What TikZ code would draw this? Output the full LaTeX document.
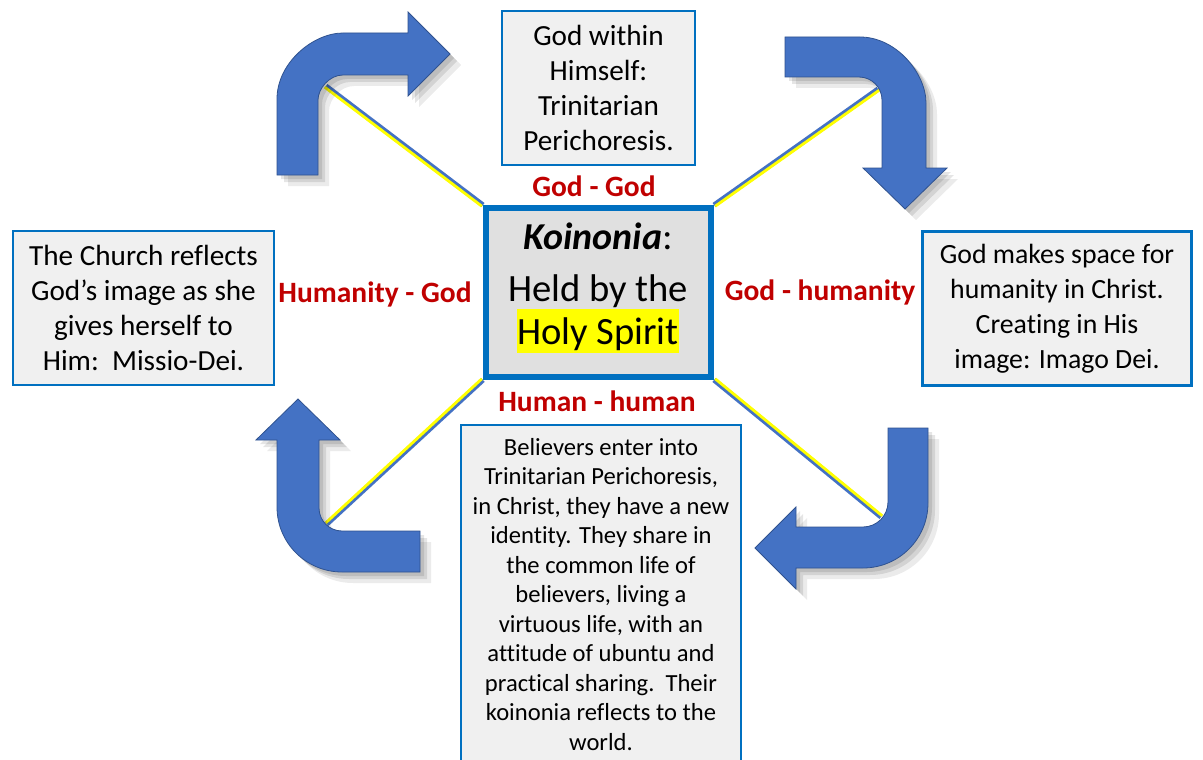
\documentclass[tikz,border=0pt]{standalone}
\usepackage{fontspec}
\setmainfont{Carlito}[Ligatures={NoCommon}]
\definecolor{arrowblue}{HTML}{4472C4}
\definecolor{arrowedge}{HTML}{2F528F}
\definecolor{boxblue}{HTML}{0070C0}
\definecolor{labelred}{HTML}{C00000}
\definecolor{hiyellow}{HTML}{FFFF00}
\begin{document}
\begin{tikzpicture}[x=1pt,y=-1pt,
  textbox/.style={draw=boxblue, line width=2.5, fill=black!6, inner sep=0, align=center,
    font=\fontsize{29.2}{35}\selectfont},
  hubbox/.style={draw=boxblue, line width=6, fill=black!12, inner sep=0},
  relabel/.style={text=labelred, font=\fontsize{29.5}{34}\selectfont\bfseries, inner sep=0},
  bentarrow/.style={fill=arrowblue, draw=arrowedge, line width=0.8,
    preaction={fill=black, opacity=0.08, draw=none, transform canvas={shift={(11,11)}}},
    preaction={fill=black, opacity=0.10, draw=none, transform canvas={shift={(7,7)}}},
    preaction={fill=black, opacity=0.10, draw=none, transform canvas={shift={(4,4)}}}},
  linkblue/.style={draw=arrowblue, line width=5},
  linkyellow/.style={draw=hiyellow, line width=2.8}
]
\clip (0,0) rectangle (1203,760);
\fill[white] (0,0) rectangle (1203,760);

% boxes
\node[hubbox, minimum width=225, minimum height=169] (hub) at (598.5,292.5) {};
\node[font=\fontsize{38}{42}\selectfont, inner sep=0] (hubtitle) at (598,236) {\textbf{\textit{Koinonia}}:};
\node[font=\fontsize{38.6}{42.5}\selectfont, inner sep=0, align=center] (hubtext) at (598,314)
  {Held by the\\{\setlength{\fboxsep}{0pt}\colorbox{hiyellow}{\rule[-9pt]{0pt}{44pt}Holy Spirit}}};

\node[textbox, minimum width=193, minimum height=154] (top) at (598.5,88)
  {God within\\Himself:\\Trinitarian\\Perichoresis.};
\node[textbox, minimum width=261, minimum height=154] (left) at (143.5,308)
  {The Church reflects\\God’s image as she\\gives herself to\\Him:\ \ Missio-Dei.};
\node[textbox, minimum width=269, minimum height=154, font=\fontsize{27.8}{35}\selectfont] (right) at (1057,308.5)
  {God makes space for\\humanity in Christ.\\Creating in His\\image: Imago Dei.};
\node[textbox, minimum width=280, minimum height=339, font=\fontsize{24.6}{29.5}\selectfont] (bottom) at (601,594.5)
  {Believers enter into\\Trinitarian Perichoresis,\\in Christ, they have a new\\identity. They share in\\the common life of\\believers, living a\\virtuous life, with an\\attitude of ubuntu and\\practical sharing.\ \ Their\\koinonia reflects to the\\world.};

% relation labels
\node[relabel] (lgg) at (594,186) {God - God};
\node[relabel] (lhg) at (375,294) {Humanity - God};
\node[relabel] (lgh) at (820,292) {God - humanity};
\node[relabel] (lhh) at (597,401) {Human - human};

% bend points of the arrows
\coordinate (tlbend) at (326,86);
\coordinate (trbend) at (878,89);
\coordinate (brbend) at (881,517);
\coordinate (blbend) at (327,524);

% connectors
\draw[linkblue] (hub.north west) -- (tlbend);
\draw[linkyellow, transform canvas={shift={(-1.2,1.2)}}] (hub.north west) -- (tlbend);
\draw[linkblue] (hub.north east) -- (trbend);
\draw[linkyellow, transform canvas={shift={(1.2,1.2)}}] (hub.north east) -- (trbend);
\draw[linkblue] (hub.south east) -- (brbend);
\draw[linkyellow, transform canvas={shift={(1.2,-1.2)}}] (hub.south east) -- (brbend);
\draw[linkblue] (hub.south west) -- (blbend);
\draw[linkyellow, transform canvas={shift={(-1.2,-1.2)}}] (hub.south west) -- (blbend);

% bent arrows
\path[bentarrow] (277,175) -- (277,99) .. controls (277,62.6) and (313.4,33) .. (343,33)
  -- (408,33) -- (408,12) -- (450,54) -- (408,96) -- (408,75) -- (343,75)
  .. controls (329.2,75) and (318,88.8) .. (318,100) -- (318,175) -- cycle;
\path[bentarrow] (785,37) -- (860,37) .. controls (896.4,37) and (926,73.4) .. (926,103)
  -- (926,168) -- (947,168) -- (905,209) -- (863,168) -- (882,168) -- (882,100)
  .. controls (882,87.3) and (871.7,77) .. (859,77) -- (785,77) -- cycle;
\path[bentarrow] (888,428) -- (928,428) -- (928,503) .. controls (928,538.9) and (898.9,568) .. (863,568)
  -- (796,568) -- (796,589) -- (755,548) -- (796,507) -- (796,527) -- (863,527)
  .. controls (876.8,527) and (888,515.8) .. (888,502) -- cycle;
\path[bentarrow] (420,531) -- (420,572) -- (342,572) .. controls (306.1,572) and (277,542.9) .. (277,507)
  -- (277,440) -- (256,440) -- (298,399) -- (340,440) -- (319,440) -- (319,508)
  .. controls (319,520.7) and (329.3,531) .. (342,531) -- cycle;
\end{tikzpicture}
\end{document}
